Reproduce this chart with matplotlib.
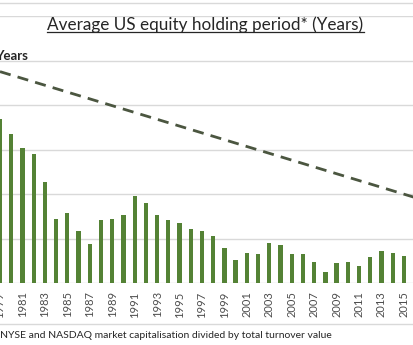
import matplotlib
matplotlib.use("Agg")
import matplotlib.pyplot as plt
from matplotlib.lines import Line2D

years = list(range(1979, 2016))
holding = [3.68, 3.34, 3.04, 2.89, 2.28, 1.44, 1.57, 1.17, 0.87, 1.42,
           1.44, 1.53, 1.96, 1.79, 1.53, 1.42, 1.35, 1.21, 1.17, 1.06,
           0.79, 0.51, 0.68, 0.65, 0.89, 0.85, 0.65, 0.65, 0.47, 0.24,
           0.45, 0.47, 0.38, 0.59, 0.72, 0.67, 0.61]
trend_years = [1979, 2016]
trend_values = [4.75, 1.92]
tick_years = list(range(1979, 2016, 2))

title = "Average US equity holding period* (Years)"
ylabel = "Years"
footnote = "NYSE and NASDAQ market capitalisation divided by total turnover value"

plt.rcParams['font.family'] = ['Lato', 'DejaVu Sans']

W, H = 413, 345
fig = plt.figure(figsize=(W / 100, H / 100), dpi=100)
fig.patch.set_facecolor('white')

ax = fig.add_axes([0, (H - 283) / H, 1, (283 - 16) / H])
ax.bar(years, holding, width=0.38, color='#548235', zorder=3)
ax.plot(trend_years, trend_values, color='#4b5640', lw=2.0,
        linestyle=(0, (4, 2.6)), zorder=4)

ax.set_xlim(1979, 1979 + W / 11.22)
ax.set_ylim(0, 6)
ax.set_yticks(range(0, 7))
ax.yaxis.grid(True, color='#d9d9d9', lw=1.0, zorder=0)
ax.tick_params(axis='y', left=False, labelleft=False)
ax.set_xticks(tick_years)
ax.set_xticklabels([str(y) for y in tick_years], rotation=90,
                   fontsize=8, color='#4d4d4d')
ax.tick_params(axis='x', length=0, pad=6)
for s in ax.spines.values():
    s.set_visible(False)
ax.set_facecolor('white')

# title
t = fig.text(205.5 / W, 1 - 25 / H, title, ha='center', va='center',
             fontsize=12.3, color='#262626')
fig.text(28 / W, 1 - 60 / H, ylabel, ha='right', va='baseline',
         fontsize=9.5, fontweight='bold', color='#262626')
fig.text(0.0, 1 - 335 / H, footnote, ha='left', va='center',
         fontsize=7.45, color='#262626')

# separators
fig.add_artist(Line2D([0, 1], [1 - 2.7 / H, 1 - 2.7 / H], color='#d9d9d9', lw=1.0))
fig.add_artist(Line2D([0, 1], [1 - 324 / H, 1 - 324 / H], color='#d9d9d9', lw=1.0))

fig.canvas.draw()
bb = t.get_window_extent().transformed(fig.transFigure.inverted())
uy = 1 - 31.7 / H
fig.add_artist(Line2D([bb.x0, bb.x1], [uy, uy], color='#262626', lw=0.9))

fig.savefig("out.png", dpi=100, facecolor='white')
